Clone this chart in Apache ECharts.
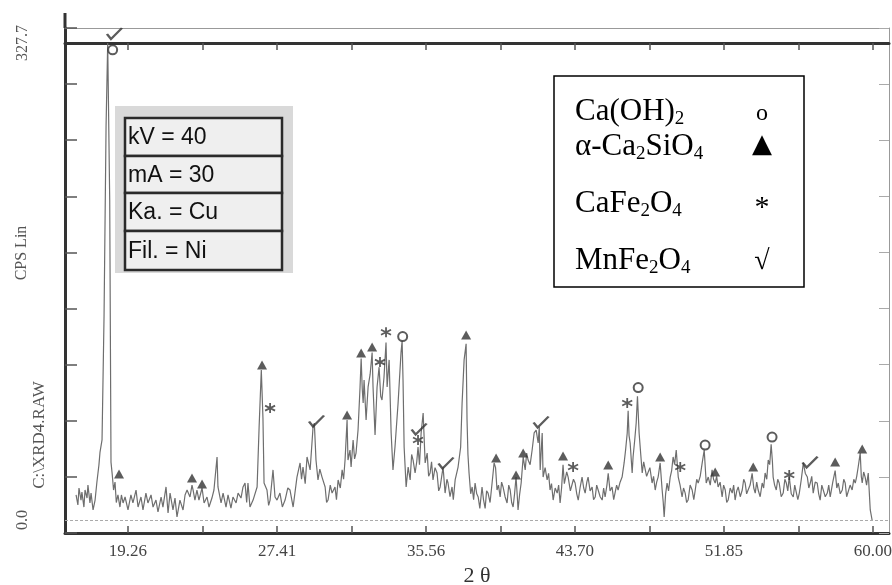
<!DOCTYPE html>
<html>
<head>
<meta charset="utf-8">
<script src="https://cdn.jsdelivr.net/npm/echarts@6/dist/echarts.min.js"></script>
<style>
html,body{margin:0;padding:0;background:#ffffff;}
#chart{width:892px;height:585px;}
</style>
</head>
<body>
<div id="chart"></div>
<script>
// ---- XRD trace (2θ in degrees, intensity in CPS) ----
const twoTheta = [
16.42,16.52,16.58,16.69,16.74,16.85,16.91,17.02,17.07,17.18,17.24,17.35,17.46,17.56,17.67,17.73,17.84,17.95,18.06,18.15,
18.26,18.33,18.40,18.47,18.55,18.62,18.71,18.82,18.90,18.99,19.10,19.26,19.42,19.53,19.70,19.81,19.97,20.08,20.24,20.35,
20.52,20.63,20.79,20.90,21.07,21.17,21.34,21.45,21.56,21.72,21.83,21.94,22.10,22.27,22.38,22.49,22.65,22.76,22.82,22.92,
23.03,23.14,23.31,23.42,23.58,23.69,23.85,23.96,24.13,24.18,24.35,24.46,24.62,24.73,24.89,25.00,25.17,25.28,25.44,25.55,
25.66,25.75,25.82,25.93,26.10,26.32,26.43,26.55,26.64,26.70,26.86,26.95,27.03,27.19,27.30,27.41,27.57,27.70,27.85,28.00,
28.12,28.29,28.50,28.67,28.75,28.83,28.95,29.05,29.22,29.38,29.45,29.54,29.65,29.75,29.87,30.04,30.12,30.20,30.32,30.42,
30.58,30.66,30.75,30.87,30.97,31.05,31.13,31.24,31.29,31.40,31.46,31.57,31.65,31.73,31.84,31.95,32.01,32.07,32.12,32.17,
32.28,32.39,32.50,32.61,32.66,32.77,32.88,32.99,33.08,33.15,33.26,33.37,33.43,33.54,33.65,33.75,33.86,34.03,34.19,34.25,
34.30,34.36,34.47,34.58,34.69,34.77,34.85,34.96,35.05,35.12,35.20,35.29,35.40,35.51,35.62,35.70,35.78,35.86,35.94,36.05,
36.16,36.25,36.33,36.49,36.60,36.70,36.76,36.87,36.98,37.05,37.15,37.31,37.45,37.53,37.64,37.75,37.80,37.85,37.91,38.00,
38.08,38.16,38.24,38.33,38.41,38.50,38.62,38.70,38.79,38.87,38.95,39.06,39.17,39.28,39.36,39.44,39.52,39.61,39.69,39.77,
39.88,39.99,40.08,40.16,40.24,40.32,40.40,40.48,40.55,40.59,40.68,40.76,40.87,40.98,41.06,41.14,41.25,41.36,41.47,41.58,
41.69,41.75,41.80,41.91,41.96,42.07,42.18,42.26,42.34,42.42,42.51,42.62,42.73,42.81,42.89,42.97,43.05,43.12,43.16,43.25,
43.33,43.45,43.55,43.62,43.71,43.80,43.88,43.98,44.09,44.18,44.26,44.35,44.42,44.53,44.64,44.72,44.81,44.89,44.97,45.08,
45.19,45.27,45.35,45.45,45.52,45.62,45.73,45.82,45.90,45.98,46.06,46.17,46.28,46.39,46.47,46.56,46.61,46.66,46.72,46.83,
46.88,46.97,47.05,47.12,47.21,47.30,47.38,47.46,47.54,47.62,47.70,47.80,47.92,48.00,48.09,48.17,48.25,48.36,48.47,48.53,
48.58,48.66,48.74,48.82,48.91,48.99,49.07,49.15,49.24,49.35,49.45,49.56,49.64,49.73,49.81,49.89,50.00,50.11,50.20,50.28,
50.36,50.44,50.55,50.66,50.77,50.88,50.99,51.10,51.20,51.28,51.37,51.45,51.53,51.64,51.75,51.83,51.92,52.00,52.08,52.19,
52.30,52.38,52.46,52.55,52.63,52.74,52.85,52.93,53.01,53.09,53.17,53.28,53.39,53.48,53.56,53.64,53.72,53.83,53.94,54.02,
54.10,54.19,54.27,54.35,54.43,54.50,54.54,54.62,54.71,54.79,54.87,54.98,55.09,55.18,55.26,55.34,55.42,55.53,55.64,55.72,
55.80,55.89,55.97,56.08,56.19,56.30,56.41,56.49,56.57,56.65,56.73,56.84,56.95,57.03,57.11,57.20,57.28,57.39,57.50,57.58,
57.66,57.80,57.93,58.02,58.10,58.21,58.32,58.40,58.48,58.56,58.64,58.75,58.86,58.95,59.03,59.11,59.19,59.30,59.36,59.41,
59.49,59.57,59.65,59.74,59.85,59.95
];
const intensity = [
17.2,10.3,22.0,13.7,19.2,8.9,20.6,15.1,24.0,11.7,18.5,6.9,13.7,26.1,37.8,46.7,55.0,140,270,327.7,
220,39.8,31.0,20.6,26.0,12.0,17.2,8.9,17.2,11.7,15.8,6.9,17.2,11.7,20.6,8.9,15.8,6.9,18.5,11.7,
17.2,8.9,13.7,5.5,15.8,8.9,22.7,4.8,18.5,6.9,15.1,2.1,13.7,6.9,17.2,20.6,15.8,24.0,20.6,13.7,
20.6,13.7,22.0,11.7,15.8,8.9,15.1,20.6,43.3,22.7,11.7,18.5,8.9,17.2,8.2,15.8,11.7,18.5,15.1,22.7,
25.4,12.0,25.4,8.9,13.7,22.7,63.9,103,70,25.4,20.6,10,13.7,34.4,15.8,13.7,18.5,9,13.7,22,
20.6,8.9,29.5,39.2,28,36.4,25,43.3,34.4,63.9,66.6,41.2,27.5,35,29.5,22.7,12,13.7,24,18.5,
22.7,14,27.5,22,34.4,28,41.2,68.7,41.2,48,36.4,55.0,42,46.0,61.8,91.4,111,90,80.4,96.2,
68.7,91.4,100,115,91.4,58.4,91.4,105,85,82.4,98.2,122,91.4,110,59.8,34.4,50.2,80.4,115,123,
96.2,50.2,22.7,36.4,27.5,45,41.2,32.3,40,50.2,38,59.8,73.5,39.2,46.0,30,32.3,40,27.5,36,
32.3,20,22.7,36.4,18.5,28,25.4,16,22.7,14,27.5,36.4,50,80.4,110,121,68.7,45,32.3,18,
22.7,14,25.4,18,15.8,8,22.7,14,8,20,18.5,12,25.4,39.2,36,20.6,24,15.8,26,22.7,
16,11.7,24,20.6,12,8.9,18,29.5,16,6.9,18,25.4,43.3,34.4,46,41.2,38,48.1,59.8,61.8,
52.9,64,34.4,59.8,29.5,36,27.5,32,20.6,25,13.7,22,18.5,24,11.7,22,38,25,25.4,33,
29.5,20,20.6,28,25.4,18,13.7,22,29.5,22,18.5,26,29.5,20,22.7,14,15.8,24,20.6,16,
13.7,22,15.8,24,32,20,22.7,14,13.7,24,20.6,26,29.5,39.2,48,59.8,75,58,52.9,32.3,
43.3,55,66.6,85,59.8,45,32.3,40,41.2,30,29.5,36,25.4,30,20.6,26,29.5,39.2,20.6,12,
2.1,18,25.4,20,29.5,34,43.3,38,48.1,29.5,24,15.8,22,18.5,12,13.7,24,20.6,14,20.6,
28,25.4,30,39.2,48.1,25.4,29.5,24,34.4,28,25.4,30,22.7,26,15.8,24,20.6,12,13.7,22,
18.5,24,13.7,20,22.7,16,20.6,28,25.4,18,20.6,24,32,22,18.5,26,20.6,16,25.4,22,
32.3,28,41.2,38,52,40,29.5,24,20.6,28,25.4,16,18.5,28,25.4,20,29.5,18,15.8,24,
22.7,14,18.5,28,39.2,32,29.5,22,25.4,30,18.5,26,25.4,18,13.7,24,22.7,16,18.5,24,
15.8,26,34,22,25.4,18,20.6,28,25.4,16,15.8,24,20.6,28,25.4,30,36.4,46.0,30,25.4,
33,29.5,24,32.3,6.9,0
];

// ---- phase markers (2θ, intensity) ----
const caOH2Theta = [18.42, 34.28, 47.16, 50.82, 54.48];
const caOH2Int   = [323, 126, 91, 51.5, 57];
const ca2SiO4Theta = [18.77, 22.76, 23.31, 26.59, 31.24, 32.01, 32.61, 37.75, 39.39, 40.48, 40.87, 43.05, 45.52, 48.36, 51.37, 53.45, 57.93, 59.41];
const ca2SiO4Int   = [31.6, 28.9, 24.7, 106.5, 72.1, 114.7, 118.9, 127.1, 42.6, 30.9, 46.0, 44.0, 37.8, 43.3, 33.0, 36.4, 39.8, 48.8];
const caFe2O4Theta = [27.03, 33.04, 33.37, 35.12, 43.60, 46.56, 49.46, 55.42];
const caFe2O4Int   = [76.9, 108.5, 129, 55.0, 36.4, 80.4, 36.4, 30.9];
const mnFe2O4Theta = [18.52, 29.57, 35.18, 36.65, 41.85, 56.56];
const mnFe2O4Int   = [334.2, 68.0, 62.5, 39.2, 67.3, 39.8];

// ---- axis ticks / labels ----
const xTickLabels = [19.26, 27.41, 35.56, 43.70, 51.85, 60.00];
const xTickMarks  = [19.26, 23.335, 27.41, 31.485, 35.56, 39.63, 43.70, 47.775, 51.85, 55.925, 60.00];
const yLabelValues = [0.0, 327.7];

// ---- text blocks ----
const instrumentRows = ['kV = 40', 'mA = 30', 'Ka. = Cu', 'Fil. = Ni'];
const legendRows = [
  {text: '{m|Ca(OH)}{s|2}', mark: 'o'},
  {text: '{m|\u03b1-Ca}{s|2}{m|SiO}{s|4}', mark: '\u25b2'},
  {text: '{m|CaFe}{s|2}{m|O}{s|4}', mark: '*'},
  {text: '{m|MnFe}{s|2}{m|O}{s|4}', mark: '\u221a'}
];

const pair = (xs, ys) => xs.map((x, i) => [x, ys[i]]);

const X_MIN = 15.815, X_MAX = 60.875;
const Y_MIN = -8.93, Y_INT = 38.55, Y_MAX = Y_MIN + 9 * Y_INT;
const ink = '#333333';
const serif = 'Liberation Serif';

const richStyles = {
  m: {fontSize: 31, fontFamily: serif, fill: '#000', lineHeight: 34},
  s: {fontSize: 19, fontFamily: serif, fill: '#000', lineHeight: 20, verticalAlign: 'bottom'}
};
const legendY = [112, 147, 204, 261];
const markFont = [
  '24px "Liberation Serif"', '26px "DejaVu Sans"', '30px "Liberation Serif"', '28px "Liberation Serif"'
];
const markDy = [2, -2, 4, 1];

const graphics = [
  {type: 'line', shape: {x1: 65, y1: 13, x2: 65, y2: 28}, style: {stroke: ink, lineWidth: 3}},
  {type: 'text', x: 22, y: 253, rotation: Math.PI / 2,
   style: {text: 'CPS Lin', font: '16px "Liberation Serif"', fill: '#555', align: 'center', verticalAlign: 'middle'}},
  {type: 'text', x: 40, y: 435, rotation: Math.PI / 2,
   style: {text: 'C:\\XRD4.RAW', font: '17px "Liberation Serif"', fill: '#555', align: 'center', verticalAlign: 'middle'}},
  {type: 'rect', shape: {x: 115, y: 106, width: 178, height: 167}, style: {fill: '#d9d9d9'}}
];
const rowTops = [118, 156, 193, 231, 270];
instrumentRows.forEach((t, i) => {
  graphics.push({type: 'rect', shape: {x: 125, y: rowTops[i], width: 157, height: rowTops[i + 1] - rowTops[i]},
    style: {fill: '#efefef', stroke: '#2a2a2a', lineWidth: 2.5}});
  graphics.push({type: 'text', x: 128, y: (rowTops[i] + rowTops[i + 1]) / 2 + 1,
    style: {text: t, font: '23px "Liberation Sans"', fill: '#111', align: 'left', verticalAlign: 'middle'}});
});
graphics.push({type: 'rect', shape: {x: 554, y: 76, width: 250, height: 211},
  style: {fill: '#ffffff', stroke: '#000', lineWidth: 1.5}});
legendRows.forEach((r, i) => {
  graphics.push({type: 'text', x: 575, y: legendY[i],
    style: {text: r.text, rich: richStyles, align: 'left', verticalAlign: 'middle'}});
  graphics.push({type: 'text', x: 762, y: legendY[i] + markDy[i],
    style: {text: r.mark, font: markFont[i], fill: '#000', align: 'center', verticalAlign: 'middle'}});
});

const chart = echarts.init(document.getElementById('chart'), null, {renderer: 'canvas'});
chart.setOption({
  animation: false,
  backgroundColor: '#ffffff',
  grid: {left: 65, right: 3, top: 28, bottom: 52, containLabel: false, outerBoundsMode: 'none'},
  xAxis: [
    {
      type: 'value', min: X_MIN, max: X_MAX, position: 'bottom',
      axisLine: {show: true, onZero: false, lineStyle: {color: ink, width: 3}},
      axisTick: {show: true, inside: true, length: 7, customValues: xTickMarks, lineStyle: {color: '#555', width: 1.5}},
      axisLabel: {show: true, customValues: xTickLabels, formatter: v => v.toFixed(2), margin: 10,
        fontFamily: serif, fontSize: 17, color: '#444'},
      splitLine: {show: false},
      name: '2 \u03b8', nameLocation: 'middle', nameGap: 31,
      nameTextStyle: {fontFamily: serif, fontSize: 22, color: '#333'}
    },
    {
      type: 'value', min: X_MIN, max: X_MAX, position: 'top', offset: -15,
      axisLine: {show: true, onZero: false, lineStyle: {color: ink, width: 3}},
      axisTick: {show: true, inside: true, length: 7, customValues: xTickMarks, lineStyle: {color: '#555', width: 1.5}},
      axisLabel: {show: false}, splitLine: {show: false}
    },
    {
      type: 'value', min: X_MIN, max: X_MAX, position: 'top', offset: 0,
      axisLine: {show: true, onZero: false, lineStyle: {color: '#999', width: 1}},
      axisTick: {show: false}, axisLabel: {show: false}, splitLine: {show: false}
    }
  ],
  yAxis: [
    {
      type: 'value', min: Y_MIN, max: Y_MAX, interval: Y_INT, position: 'left',
      axisLine: {show: true, onZero: false, lineStyle: {color: ink, width: 3}},
      axisTick: {show: true, inside: true, length: 12, lineStyle: {color: '#555', width: 1.5}},
      axisLabel: {show: true, customValues: yLabelValues, formatter: v => v.toFixed(1), rotate: 90, margin: 34,
        fontFamily: serif, fontSize: 16, color: '#555'},
      splitLine: {show: false}
    },
    {
      type: 'value', min: Y_MIN, max: Y_MAX, interval: Y_INT, position: 'right',
      axisLine: {show: true, onZero: false, lineStyle: {color: '#999', width: 1}},
      axisTick: {show: true, inside: true, length: 10, lineStyle: {color: '#aaa', width: 1}},
      axisLabel: {show: false}, splitLine: {show: false}
    }
  ],
  series: [
    {
      type: 'line', xAxisIndex: 0, yAxisIndex: 0, data: pair(twoTheta, intensity),
      showSymbol: false, symbol: 'none', smooth: false,
      lineStyle: {color: '#6e6e6e', width: 1.2}, z: 2,
      markLine: {
        silent: true, symbol: ['none', 'none'], label: {show: false},
        lineStyle: {color: '#aaaaaa', width: 1, type: [3, 2]},
        data: [{yAxis: 0}]
      }
    },
    {
      name: 'Ca(OH)2', type: 'scatter', xAxisIndex: 0, yAxisIndex: 0, data: pair(caOH2Theta, caOH2Int),
      symbol: 'emptyCircle', symbolSize: 9, itemStyle: {color: ink, borderWidth: 2}, z: 5
    },
    {
      name: 'a-Ca2SiO4', type: 'scatter', xAxisIndex: 0, yAxisIndex: 0, data: pair(ca2SiO4Theta, ca2SiO4Int),
      symbol: 'triangle', symbolSize: [10, 9], itemStyle: {color: ink}, z: 5
    },
    {
      name: 'CaFe2O4', type: 'scatter', xAxisIndex: 0, yAxisIndex: 0, data: pair(caFe2O4Theta, caFe2O4Int),
      symbol: 'path://M5,0 L5,10 M0.67,2.5 L9.33,7.5 M0.67,7.5 L9.33,2.5', symbolSize: 10,
      itemStyle: {color: 'rgba(0,0,0,0)', borderColor: ink, borderWidth: 1.8}, z: 5
    },
    {
      name: 'MnFe2O4', type: 'scatter', xAxisIndex: 0, yAxisIndex: 0, data: pair(mnFe2O4Theta, mnFe2O4Int),
      symbol: 'path://M0,6 L4,11 L15,0', symbolSize: [15, 11],
      itemStyle: {color: 'rgba(0,0,0,0)', borderColor: ink, borderWidth: 2.2}, z: 5
    }
  ],
  graphic: graphics
});
</script>
</body>
</html>
